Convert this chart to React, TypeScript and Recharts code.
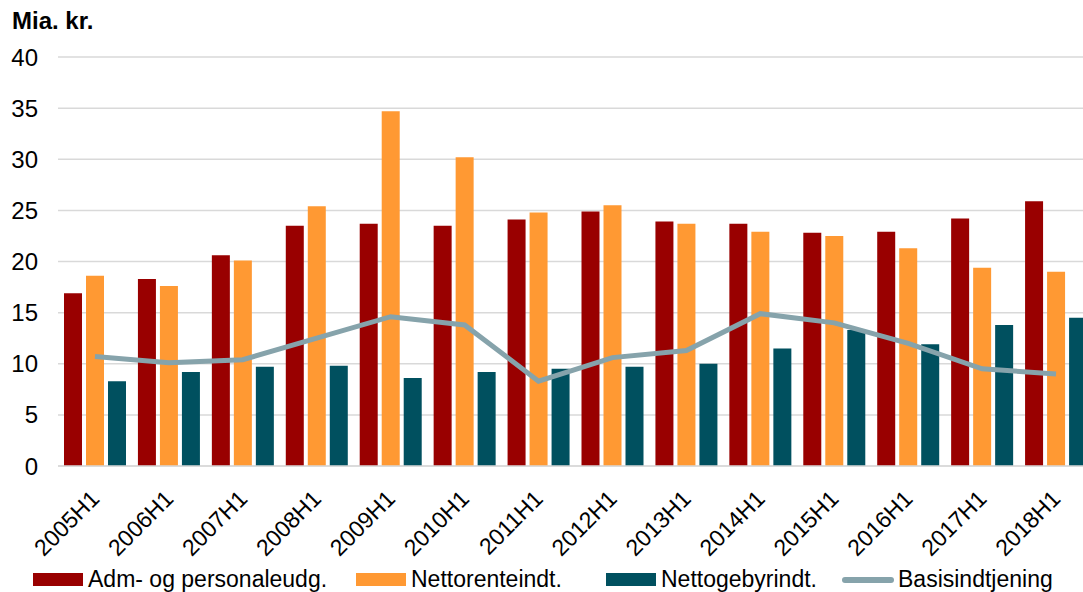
import React from 'react';
import { ComposedChart, Bar, Line, XAxis, YAxis, CartesianGrid } from 'recharts';

const categories = [
  '2005H1', '2006H1', '2007H1', '2008H1', '2009H1', '2010H1', '2011H1',
  '2012H1', '2013H1', '2014H1', '2015H1', '2016H1', '2017H1', '2018H1',
];

const admPersonale = [16.9, 18.3, 20.6, 23.5, 23.7, 23.5, 24.1, 24.9, 23.9, 23.7, 22.8, 22.9, 24.2, 25.9];
const nettorente = [18.6, 17.6, 20.1, 25.4, 34.7, 30.2, 24.8, 25.5, 23.7, 22.9, 22.5, 21.3, 19.4, 19.0];
const nettogebyr = [8.3, 9.2, 9.7, 9.8, 8.6, 9.2, 9.5, 9.7, 10.0, 11.5, 13.3, 11.9, 13.8, 14.5];
const basisindtjening = [10.7, 10.1, 10.4, 12.5, 14.6, 13.8, 8.3, 10.6, 11.3, 14.9, 14.0, 12.0, 9.5, 9.0];

const yTicks = [0, 5, 10, 15, 20, 25, 30, 35, 40];

const RED = '#990000';
const ORANGE = '#FF9933';
const TEAL = '#00505F';
const GREY = '#86A3AB';

const legendItems = [
  { name: 'Adm- og personaleudg.', color: RED, kind: 'bar', left: 33 },
  { name: 'Nettorenteindt.', color: ORANGE, kind: 'bar', left: 356 },
  { name: 'Nettogebyrindt.', color: TEAL, kind: 'bar', left: 606 },
  { name: 'Basisindtjening', color: GREY, kind: 'line', left: 842 },
];

const data = categories.map((c, i) => ({
  period: c,
  adm: admPersonale[i],
  rente: nettorente[i],
  gebyr: nettogebyr[i],
  basis: basisindtjening[i],
}));

const FONT = '"Liberation Sans", Arial, sans-serif';

function PeriodTick(props: any) {
  const { x, y, payload } = props;
  return (
    <text
      x={x}
      y={y}
      dx={-8}
      dy="0.71em"
      transform={`rotate(-45, ${x}, ${y})`}
      textAnchor="end"
      fontSize={23}
      fontFamily={FONT}
      fill="#000"
    >
      {payload.value}
    </text>
  );
}

export default function App() {
  return (
    <div
      style={{
        position: 'absolute',
        left: 0,
        top: 0,
        width: 1083,
        height: 592,
        overflow: 'hidden',
        background: '#fff',
        fontFamily: FONT,
      }}
    >
      <div style={{ position: 'absolute', left: 12, top: 7, fontSize: 24, fontWeight: 'bold', color: '#000' }}>
        Mia. kr.
      </div>
      <ComposedChart
        width={1100}
        height={592}
        data={data}
        margin={{ top: 57, right: 7, bottom: 0, left: 0 }}
        barSize={18}
        barGap={4}
      >
        <CartesianGrid vertical={false} stroke="#d9d9d9" strokeWidth={1.5} />
        <XAxis
          dataKey="period"
          height={126}
          interval={0}
          tickLine={false}
          axisLine={{ stroke: '#d9d9d9', strokeWidth: 1.5 }}
          tick={<PeriodTick />}
          tickMargin={11}
        />
        <YAxis
          width={58}
          domain={[0, 40]}
          ticks={yTicks}
          interval={0}
          tickLine={false}
          axisLine={false}
          tick={{ fontSize: 24, fill: '#000', fontFamily: FONT }}
          tickMargin={14}
        />
        <Bar dataKey="adm" fill={RED} isAnimationActive={false} />
        <Bar dataKey="rente" fill={ORANGE} isAnimationActive={false} />
        <Bar dataKey="gebyr" fill={TEAL} isAnimationActive={false} />
        <Line
          dataKey="basis"
          type="linear"
          stroke={GREY}
          strokeWidth={5}
          dot={false}
          activeDot={false}
          isAnimationActive={false}
        />
      </ComposedChart>
      {legendItems.map((item) => (
        <div
          key={item.name}
          style={{
            position: 'absolute',
            left: item.left,
            top: 566,
            display: 'flex',
            alignItems: 'center',
            fontSize: 23,
            color: '#000',
            whiteSpace: 'nowrap',
          }}
        >
          {item.kind === 'bar' ? (
            <span style={{ display: 'inline-block', width: 50, height: 13, background: item.color, marginRight: 5 }} />
          ) : (
            <span style={{ display: 'inline-block', width: 52, height: 6, borderRadius: 3, background: item.color, marginRight: 4 }} />
          )}
          <span>{item.name}</span>
        </div>
      ))}
    </div>
  );
}
